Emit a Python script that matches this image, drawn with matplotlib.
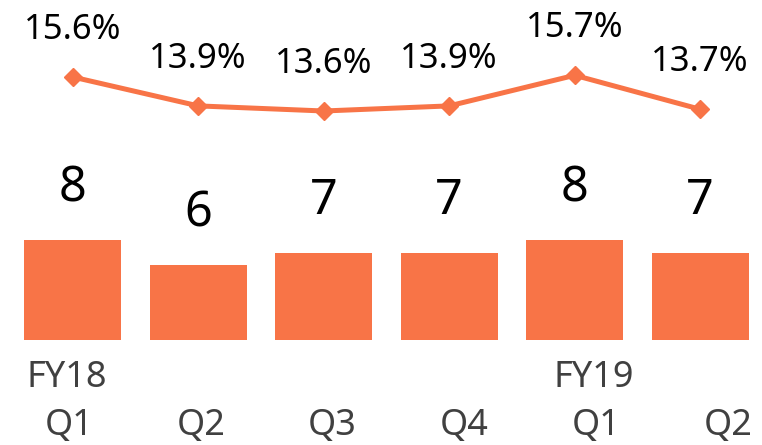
import matplotlib
matplotlib.use('Agg')
import matplotlib.pyplot as plt

plt.rcParams['font.family'] = ['Noto Sans', 'DejaVu Sans']

# データ
quarters = ['Q1', 'Q2', 'Q3', 'Q4', 'Q1', 'Q2']
years = ['FY18', '', '', '', 'FY19', '']
values = [8, 6, 7, 7, 8, 7]
rates = [15.6, 13.9, 13.6, 13.9, 15.7, 13.7]

orange = '#F87447'
W, H = 762, 445

fig = plt.figure(figsize=(W / 100, H / 100), dpi=100)

# 棒グラフ (下側)
ax = fig.add_axes([10 / W, 105 / H, 753 / W, 340 / H])
x = list(range(len(values)))
ax.bar(x, values, width=0.77, color=orange)
ax.set_xlim(-0.5, 5.5)
ax.set_ylim(0, 27.2)
ax.axis('off')
for xi, v in zip(x, values):
    ax.annotate(str(v), (xi, v), textcoords='offset points', xytext=(0, 37),
                ha='center', va='center', fontsize=35, color='black')

# 折れ線 (上側)
ax2 = fig.add_axes([10 / W, 0, 753 / W, 1])
ax2.plot(x, rates, color=orange, lw=3.6, marker='D', ms=9, zorder=3)
ax2.set_xlim(-0.5, 5.5)
ax2.set_ylim(-6.05, 20.13)
ax2.axis('off')
for xi, r in zip(x, rates):
    ax2.annotate(f'{r:.1f}%', (xi, r), textcoords='offset points', xytext=(0, 34),
                 ha='center', va='center', fontsize=25, color='black')

# カテゴリラベル
xt = ax2.get_xaxis_transform()
for i, (q, y) in enumerate(zip(quarters, years)):
    lx = -0.03 + 1.05 * i
    ax2.text(lx, 1 - 426 / H, q, transform=xt, ha='center', va='center',
             fontsize=26, color='#404040')
    if y:
        ax2.text(lx - 0.02, 1 - 378 / H, y, transform=xt, ha='center', va='center',
                 fontsize=26, color='#404040')

fig.savefig('out.png', dpi=100)
